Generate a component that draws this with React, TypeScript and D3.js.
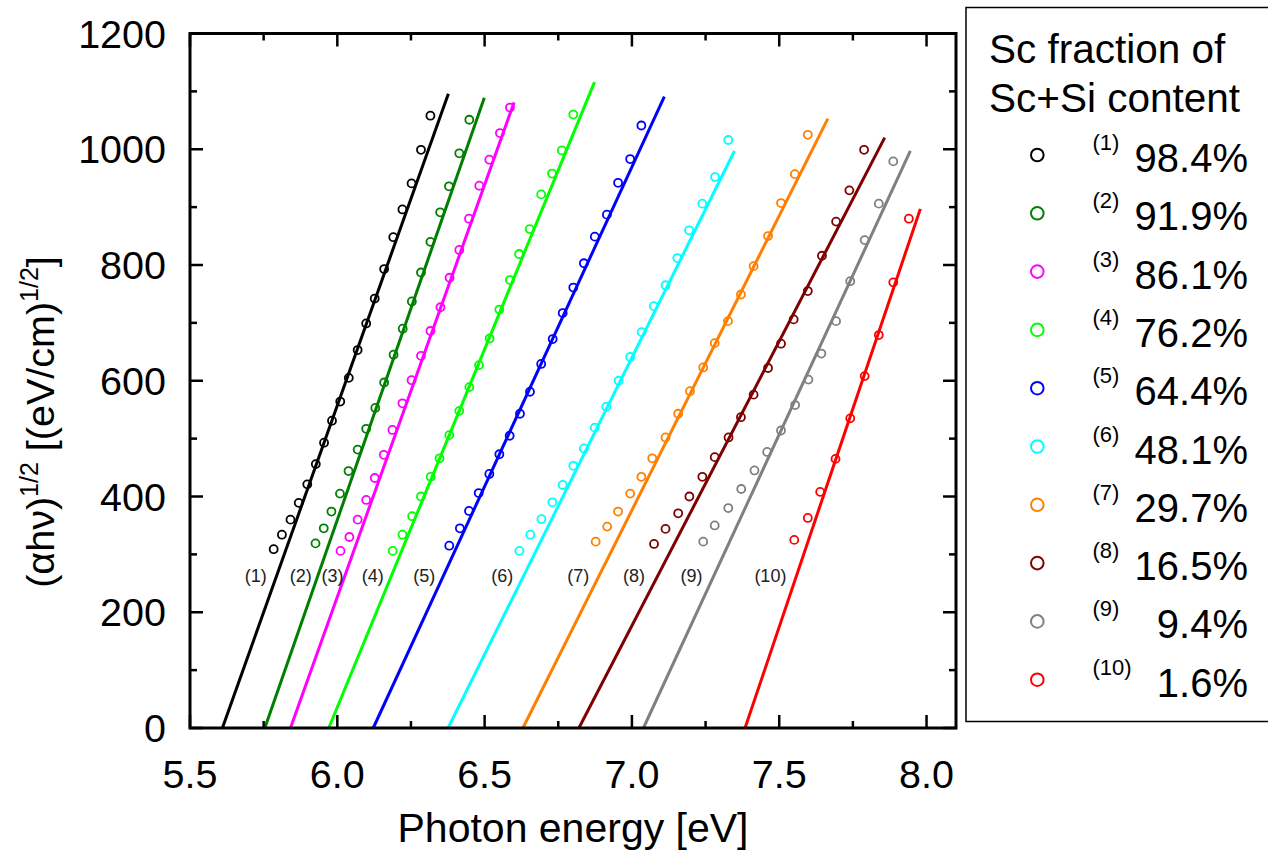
import React from "react";
import * as d3 from "d3";

const seriesLabels = ["98.4%", "91.9%", "86.1%", "76.2%", "64.4%", "48.1%", "29.7%", "16.5%", "9.4%", "1.6%"];
const seriesTags = ["(1)", "(2)", "(3)", "(4)", "(5)", "(6)", "(7)", "(8)", "(9)", "(10)"];
const seriesColors = ["#000000", "#007F00", "#FF00FF", "#00FF00", "#0000FF", "#00FFFF", "#FF8000", "#7F0000", "#808080", "#FF0000"];

const s1 = [[5.784,309],[5.812,334],[5.841,360],[5.869,389],[5.898,421],[5.927,456],[5.955,493],[5.982,531],[6.010,564],[6.039,605],[6.069,653],[6.098,699],[6.127,742],[6.159,793],[6.190,848],[6.221,896],[6.252,941],[6.284,999],[6.316,1058]];
const s2 = [[5.926,319],[5.954,345],[5.980,374],[6.009,405],[6.038,444],[6.069,481],[6.098,517],[6.129,553],[6.159,597],[6.191,645],[6.222,690],[6.253,737],[6.284,787],[6.316,840],[6.349,891],[6.379,936],[6.414,993],[6.448,1051]];
const s3 = [[6.011,306],[6.041,330],[6.069,360],[6.098,394],[6.127,432],[6.158,472],[6.187,515],[6.221,561],[6.252,601],[6.284,643],[6.316,686],[6.350,727],[6.381,778],[6.414,826],[6.447,880],[6.482,937],[6.516,982],[6.552,1028],[6.586,1072]];
const s4 = [[6.188,306],[6.221,334],[6.254,366],[6.284,400],[6.317,434],[6.347,466],[6.380,506],[6.414,548],[6.448,589],[6.481,627],[6.517,673],[6.550,723],[6.586,774],[6.617,819],[6.653,862],[6.692,922],[6.729,958],[6.762,998],[6.801,1060]];
const s5 = [[6.380,315],[6.416,345],[6.447,375],[6.480,406],[6.516,439],[6.550,473],[6.585,505],[6.620,543],[6.654,581],[6.692,629],[6.731,672],[6.765,717],[6.801,761],[6.837,803],[6.874,849],[6.915,887],[6.953,942],[6.994,983],[7.032,1041]];
const s6 = [[6.618,306],[6.655,334],[6.693,361],[6.730,390],[6.765,420],[6.801,453],[6.837,483],[6.874,519],[6.913,555],[6.955,600],[6.994,641],[7.033,684],[7.074,729],[7.114,765],[7.154,812],[7.194,860],[7.239,906],[7.282,952],[7.327,1016]];
const s7 = [[6.877,322],[6.916,348],[6.953,374],[6.994,405],[7.032,434],[7.069,466],[7.114,502],[7.157,543],[7.197,582],[7.242,623],[7.281,665],[7.326,703],[7.370,749],[7.413,798],[7.462,850],[7.506,907],[7.553,957],[7.597,1025]];
const s8 = [[7.075,318],[7.114,344],[7.157,371],[7.195,400],[7.239,434],[7.281,468],[7.328,502],[7.370,537],[7.413,576],[7.462,622],[7.506,664],[7.549,706],[7.597,755],[7.645,816],[7.693,875],[7.738,929],[7.788,999]];
const s9 = [[7.242,322],[7.281,350],[7.327,380],[7.371,413],[7.416,445],[7.459,477],[7.506,514],[7.554,558],[7.599,602],[7.643,647],[7.693,703],[7.741,772],[7.790,843],[7.838,906],[7.887,979]];
const s10 = [[7.551,325],[7.597,363],[7.639,408],[7.691,465],[7.741,535],[7.790,608],[7.838,679],[7.887,770],[7.940,880]];

// linear fits: x-intercept (y=0), and the upper end point
const fitX0 = [5.610, 5.754, 5.841, 5.971, 6.122, 6.376, 6.630, 6.820, 7.039, 7.384];
const fitX1 = [6.377, 6.499, 6.600, 6.873, 7.110, 7.348, 7.665, 7.858, 7.945, 7.979];
const fitY1 = [1096, 1089, 1081, 1116, 1091, 997, 1053, 1020, 997, 897];

// in-plot curve tags
const tagX = [5.723, 5.876, 5.984, 6.120, 6.295, 6.560, 6.818, 7.007, 7.202, 7.470];
const tagY = 262;

const xMajor = [5.5, 6.0, 6.5, 7.0, 7.5, 8.0];
const xMinor = [5.75, 6.25, 6.75, 7.25, 7.75];
const yMajor = [0, 200, 400, 600, 800, 1000, 1200];
const yMinor = [100, 300, 500, 700, 900, 1100];

const allSeries = [s1, s2, s3, s4, s5, s6, s7, s8, s9, s10];

const FONT = "'Liberation Sans', Arial, Helvetica, sans-serif";

export default function App() {
  const L = 190, R = 956, T = 33.5, B = 728;
  const x = d3.scaleLinear().domain([5.5, 8.1]).range([L, R]);
  const y = d3.scaleLinear().domain([0, 1200]).range([B, T]);
  const line = d3.line<number[]>().x((d) => x(d[0])).y((d) => y(d[1]));

  const majLen = 13, minLen = 7;

  const legendRow0 = 155;
  const legendStep = 58.3;

  return (
    <svg width={1268} height={854} style={{ position: "absolute", left: 0, top: 0, background: "#fff" }} fontFamily={FONT}>
      <rect x={0} y={0} width={1268} height={854} fill="#fff" />
      {/* fit lines */}
      {allSeries.map((_, i) => (
        <path key={"f" + i} d={line([[fitX0[i], 0], [fitX1[i], fitY1[i]]]) || ""} stroke={seriesColors[i]} strokeWidth={3} fill="none" />
      ))}
      {/* data points */}
      {allSeries.map((s, i) => (
        <g key={"s" + i}>
          {s.map((d, j) => (
            <circle key={j} cx={x(d[0])} cy={y(d[1])} r={4} fill="none" stroke={seriesColors[i]} strokeWidth={1.8} />
          ))}
        </g>
      ))}
      {/* curve tags */}
      {tagX.map((t, i) => (
        <text key={"t" + i} x={x(t)} y={y(tagY) + 6} fontSize={18} textAnchor="middle" fill="#222">{seriesTags[i]}</text>
      ))}
      {/* frame */}
      <rect x={L} y={T} width={R - L} height={B - T} fill="none" stroke="#000" strokeWidth={3} />
      {/* ticks */}
      {xMajor.map((v) => (
        <g key={"xm" + v}>
          <line x1={x(v)} x2={x(v)} y1={B} y2={B - majLen} stroke="#000" strokeWidth={2.5} />
          <line x1={x(v)} x2={x(v)} y1={T} y2={T + majLen} stroke="#000" strokeWidth={2.5} />
          <text x={x(v)} y={788} fontSize={39.5} textAnchor="middle">{v.toFixed(1)}</text>
        </g>
      ))}
      {xMinor.map((v) => (
        <g key={"xn" + v}>
          <line x1={x(v)} x2={x(v)} y1={B} y2={B - minLen} stroke="#000" strokeWidth={2.5} />
          <line x1={x(v)} x2={x(v)} y1={T} y2={T + minLen} stroke="#000" strokeWidth={2.5} />
        </g>
      ))}
      {yMajor.map((v) => (
        <g key={"ym" + v}>
          <line x1={L} x2={L + majLen} y1={y(v)} y2={y(v)} stroke="#000" strokeWidth={2.5} />
          <line x1={R} x2={R - majLen} y1={y(v)} y2={y(v)} stroke="#000" strokeWidth={2.5} />
          <text x={166} y={y(v) + 14} fontSize={39.5} textAnchor="end">{v}</text>
        </g>
      ))}
      {yMinor.map((v) => (
        <g key={"yn" + v}>
          <line x1={L} x2={L + minLen} y1={y(v)} y2={y(v)} stroke="#000" strokeWidth={2.5} />
          <line x1={R} x2={R - minLen} y1={y(v)} y2={y(v)} stroke="#000" strokeWidth={2.5} />
        </g>
      ))}
      {/* axis titles */}
      <text x={(L + R) / 2} y={842} fontSize={41} textAnchor="middle">Photon energy [eV]</text>
      <text transform="translate(54,422) rotate(-90)" fontSize={39.5} textAnchor="middle">
        <tspan>(αhν)</tspan>
        <tspan fontSize={25} dy={-16}>1/2</tspan>
        <tspan dy={16}> [(eV/cm)</tspan>
        <tspan fontSize={25} dy={-16}>1/2</tspan>
        <tspan dy={16}>]</tspan>
      </text>
      {/* legend */}
      <rect x={966} y={7.5} width={320} height={714} fill="#fff" stroke="#000" strokeWidth={1.5} />
      <text x={989} y={63} fontSize={40.5}>Sc fraction of</text>
      <text x={989} y={112} fontSize={40.5}>Sc+Si content</text>
      {seriesLabels.map((lab, i) => {
        const cy = legendRow0 + i * legendStep;
        return (
          <g key={"l" + i}>
            <circle cx={1037.3} cy={cy} r={6.3} fill="none" stroke={seriesColors[i]} strokeWidth={2} />
            <text x={1092.5} y={cy - 5} fontSize={22}>{seriesTags[i]}</text>
            <text x={1248} y={cy + 17} fontSize={40} textAnchor="end">{lab}</text>
          </g>
        );
      })}
    </svg>
  );
}
